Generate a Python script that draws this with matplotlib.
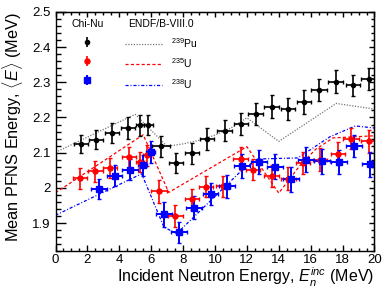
"""
Mean prompt fission neutron spectrum energy vs incident neutron energy.
Chi-Nu data against ENDF/B-VIII.0 evaluations.
"""
import matplotlib
matplotlib.use("Agg")
import matplotlib.pyplot as plt
from matplotlib.ticker import MultipleLocator, FormatStrFormatter

plt.rcParams['font.family'] = ['Liberation Sans', 'DejaVu Sans']
plt.rcParams['mathtext.fontset'] = 'custom'
plt.rcParams['mathtext.rm'] = 'Liberation Sans'
plt.rcParams['mathtext.it'] = 'Liberation Sans:italic'

# Chi-Nu data
pu_x = [1.58, 2.53, 3.53, 4.56, 5.30, 5.82, 6.60, 7.56, 8.56, 9.50,
        10.60, 11.65, 12.55, 13.55, 14.56, 15.57, 16.55, 17.56, 18.67, 19.63]
pu_y = [2.125, 2.137, 2.156, 2.170, 2.178, 2.178, 2.118, 2.071, 2.098, 2.139,
        2.163, 2.182, 2.211, 2.231, 2.224, 2.244, 2.278, 2.302, 2.291, 2.310]
pu_xerr = [0.45, 0.45, 0.45, 0.45, 0.28, 0.28, 0.55, 0.45, 0.45, 0.45,
           0.45, 0.45, 0.45, 0.45, 0.45, 0.45, 0.5, 0.45, 0.45, 0.5]
pu_yerr = [0.026, 0.027, 0.028, 0.030, 0.030, 0.029, 0.030, 0.028, 0.029, 0.030,
           0.031, 0.031, 0.031, 0.033, 0.032, 0.033, 0.031, 0.032, 0.031, 0.031]

u5_x = [1.54, 2.50, 3.40, 4.60, 5.27, 5.75, 6.50, 7.52, 8.56, 9.45,
        10.50, 11.60, 12.40, 13.55, 14.60, 15.52, 16.60, 17.70, 18.55, 19.63]
u5_y = [2.027, 2.047, 2.057, 2.087, 2.074, 2.092, 1.990, 1.920, 1.968, 2.003,
        2.005, 2.083, 2.052, 2.034, 2.026, 2.071, 2.080, 2.097, 2.140, 2.132]
u5_xerr = [0.45, 0.45, 0.45, 0.45, 0.25, 0.25, 0.5, 0.45, 0.45, 0.45,
           0.45, 0.45, 0.45, 0.45, 0.45, 0.45, 0.45, 0.45, 0.5, 0.5]
u5_yerr = [0.030, 0.030, 0.028, 0.030, 0.028, 0.030, 0.032, 0.030, 0.030, 0.030,
           0.030, 0.032, 0.030, 0.032, 0.032, 0.032, 0.032, 0.032, 0.030, 0.033]

u8_x = [2.70, 3.70, 4.70, 5.46, 5.96, 6.78, 7.72, 8.71, 9.72, 10.77,
        11.71, 12.76, 13.76, 14.75, 15.70, 16.70, 17.79, 18.73, 19.74]
u8_y = [1.996, 2.035, 2.052, 2.064, 2.102, 1.925, 1.874, 1.944, 1.982, 2.004,
        2.062, 2.074, 2.060, 2.024, 2.080, 2.075, 2.074, 2.119, 2.067]
u8_xerr = [0.5, 0.5, 0.5, 0.28, 0.28, 0.5, 0.5, 0.5, 0.5, 0.5,
           0.5, 0.5, 0.5, 0.5, 0.5, 0.5, 0.5, 0.5, 0.5]
u8_yerr = [0.028, 0.030, 0.030, 0.030, 0.032, 0.035, 0.030, 0.032, 0.032, 0.032,
           0.035, 0.035, 0.035, 0.035, 0.035, 0.035, 0.035, 0.032, 0.035]

# ENDF/B-VIII.0 evaluations
endf_pu_x = [0, 5.0, 7.0, 8.0, 9.0, 10.0, 11.0, 12.0, 14.0, 17.6, 20.0]
endf_pu_y = [2.101, 2.209, 2.118, 2.125, 2.135, 2.150, 2.170, 2.199, 2.132, 2.240, 2.224]

endf_u5_x = [0, 5.5, 7.1, 12.0, 14.0, 15.3, 16.3, 17.4, 20.0]
endf_u5_y = [1.986, 2.151, 1.987, 2.117, 1.985, 2.062, 2.109, 2.142, 2.148]

endf_u8_x = [0, 5.4, 6.8, 7.6, 11.8, 12.7, 15.2, 16.2, 17.2, 18.8, 20.0]
endf_u8_y = [1.922, 2.040, 1.888, 1.870, 2.055, 2.082, 2.085, 2.115, 2.145, 2.176, 2.170]

fig = plt.figure(figsize=(3.82, 2.89), dpi=100)
ax = fig.add_axes([0.1453, 0.131, 0.835, 0.8275])

l_pu, = ax.plot(endf_pu_x, endf_pu_y, color='#777777', lw=0.9, ls=(0, (1, 1.2)))
l_u5, = ax.plot(endf_u5_x, endf_u5_y, color='#ff0000', lw=0.9, ls=(0, (2.5, 1.8)))
l_u8, = ax.plot(endf_u8_x, endf_u8_y, color='#0000ff', lw=0.9, ls=(0, (2.5, 1.5, 0.8, 1.5)))

ax.errorbar(pu_x, pu_y, xerr=pu_xerr, yerr=pu_yerr, fmt='o', color='black',
            ms=3, elinewidth=1.2, capsize=1.2, capthick=1.0)
ax.errorbar(u5_x, u5_y, xerr=u5_xerr, yerr=u5_yerr, fmt='o', color='#ff0000',
            ms=3.6, elinewidth=1.2, capsize=1.2, capthick=1.0)
ax.errorbar(u8_x, u8_y, xerr=u8_xerr, yerr=u8_yerr, fmt='s', color='#0000ff',
            ms=5.0, elinewidth=1.4, capsize=1.2, capthick=1.0)

# legend proxies (vertical bars only, as in the original)
p_pu = ax.errorbar([], [], yerr=[], fmt='o', color='black', ms=3,
                   elinewidth=1.2, capsize=1.2)
p_u5 = ax.errorbar([], [], yerr=[], fmt='o', color='#ff0000', ms=3.6,
                   elinewidth=1.2, capsize=1.2)
p_u8 = ax.errorbar([], [], yerr=[], fmt='s', color='#0000ff', ms=5.0,
                   elinewidth=1.4, capsize=1.2)

leg1 = ax.legend([p_pu, p_u5, p_u8], ['', '', ''], title='Chi-Nu',
                 loc='upper left', bbox_to_anchor=(0.02, 1.01), frameon=False,
                 fontsize=7.5, title_fontsize=7.5, handlelength=1.0,
                 handletextpad=0, labelspacing=0.85)
ax.add_artist(leg1)
ax.legend([l_pu, l_u5, l_u8], [r'$^{239}$Pu', r'$^{235}$U', r'$^{238}$U'],
          title='ENDF/B-VIII.0', loc='upper left', bbox_to_anchor=(0.187, 1.01),
          frameon=False, fontsize=7.5, title_fontsize=7.5, handlelength=3.6,
          handletextpad=0.9, labelspacing=0.65)

ax.set_xlim(0, 20)
ax.set_ylim(1.82, 2.5)
ax.xaxis.set_major_locator(MultipleLocator(2))
ax.xaxis.set_minor_locator(MultipleLocator(0.5))
ax.yaxis.set_major_locator(MultipleLocator(0.1))
ax.yaxis.set_minor_locator(MultipleLocator(0.02))
ax.yaxis.set_major_formatter(FormatStrFormatter('%g'))
ax.tick_params(which='both', direction='in', labelsize=9.5, width=1.0)
ax.tick_params(axis='y', which='major', length=7)
ax.tick_params(axis='y', which='minor', length=3.8)
ax.tick_params(axis='x', which='major', length=4)
ax.tick_params(axis='x', which='minor', length=2.2)
ax.tick_params(axis='x', pad=2)

# shorter ticks on the top and right, no labels
top = ax.secondary_xaxis('top')
top.xaxis.set_major_locator(MultipleLocator(2))
top.xaxis.set_minor_locator(MultipleLocator(0.5))
top.tick_params(which='both', direction='in', labeltop=False, width=1.0)
top.tick_params(which='major', length=3.5)
top.tick_params(which='minor', length=2)
right = ax.secondary_yaxis('right')
right.yaxis.set_major_locator(MultipleLocator(0.1))
right.yaxis.set_minor_locator(MultipleLocator(0.02))
right.tick_params(which='both', direction='in', labelright=False, width=1.0)
right.tick_params(which='major', length=3.5)
right.tick_params(which='minor', length=2)

for s in ax.spines.values():
    s.set_linewidth(1.0)

ax.set_xlabel(r'Incident Neutron Energy, $E_n^{inc}$ (MeV)', fontsize=11.5,
              loc='right', labelpad=0)
ax.set_ylabel(r'Mean PFNS Energy, $\langle E \rangle$ (MeV)', fontsize=11.7,
              loc='top', labelpad=5)

fig.savefig('out.png', dpi=100)
